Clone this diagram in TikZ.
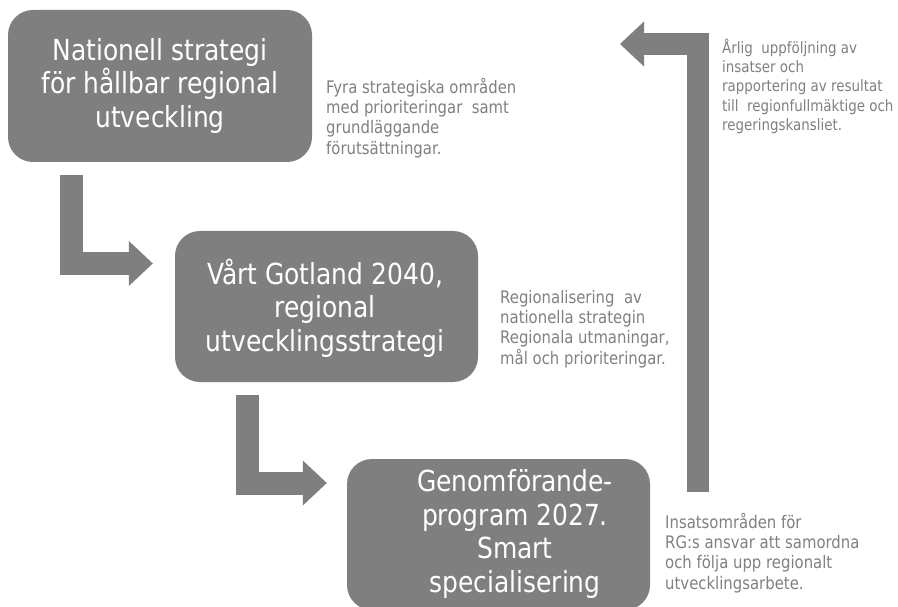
\documentclass[tikz,border=0pt]{standalone}
\usepackage{fontspec}
\setmainfont{DejaVu Sans}[FakeStretch=0.86]
\usetikzlibrary{arrows.meta}
\definecolor{boxgray}{HTML}{7F7F7F}
\definecolor{notegray}{HTML}{808080}
\begin{document}
\begin{tikzpicture}[x=1pt,y=-1pt,
 box/.style={fill=boxgray, rounded corners=25pt, minimum width=303pt, minimum height=151pt, inner sep=0pt},
 boxtext/.style={text=white, font=\fontsize{29}{33.5}\selectfont, align=center, inner sep=0pt},
 note/.style={text=notegray, font=\fontsize{17.3}{20.3}\selectfont, align=left, anchor=north west, inner sep=0pt},
 smallnote/.style={note, font=\fontsize{15.6}{19.3}\selectfont},
 blockarrow/.style={draw=boxgray, line width=23pt, line join=miter, -{Triangle[length=24pt,width=45pt,line width=0pt]}}]
\useasboundingbox (0,0) rectangle (898,607);
\fill[white] (0,0) rectangle (898,607);
\clip (0,0) rectangle (898,607);
\node[box, minimum width=304pt, minimum height=152pt] (b1) at (160,86) {};
\node[boxtext] (t1) at (b1.center) {Nationell strategi\\för hållbar regional\\utveckling};
\node[box] (b2) at (326.5,306.5) {};
\node[boxtext] (t2) at (325,308) {Vårt Gotland 2040,\\regional\\utvecklingsstrategi};
\node[box] (b3) at (498.5,534.5) {};
\node[boxtext] (t3) at (515,534) {Genomförande-\\program 2027.\\Smart\\specialisering};
\draw[blockarrow] ([xshift=64pt,yshift=-13pt]b1.south west) |- ([xshift=-22pt,yshift=43pt]b2.west);
\draw[blockarrow] ([xshift=72.5pt,yshift=-13pt]b2.south west) |- ([xshift=-20pt,yshift=51.5pt]b3.west);
\coordinate (fb0) at (697.5,492);
\coordinate (fb1) at (620,44);
\draw[blockarrow, line width=22pt] (fb0) |- (fb1);
\node[note] (n1) at (326,78) {Fyra strategiska områden\\med prioriteringar\ \ samt\\grundläggande\\förutsättningar.};
\node[note] (n2) at (500,290) {Regionalisering\ \ av\\nationella strategin\\Regionala utmaningar,\\mål och prioriteringar.};
\node[smallnote] (n3) at (722,38.5) {Årlig\ \ uppföljning av\\insatser och\\rapportering av resultat\\till\ \ regionfullmäktige och\\regeringskansliet.};
\node[note] (n4) at (665,513) {Insatsområden för\\RG:s ansvar att samordna\\och följa upp regionalt\\utvecklingsarbete.};
\end{tikzpicture}
\end{document}
